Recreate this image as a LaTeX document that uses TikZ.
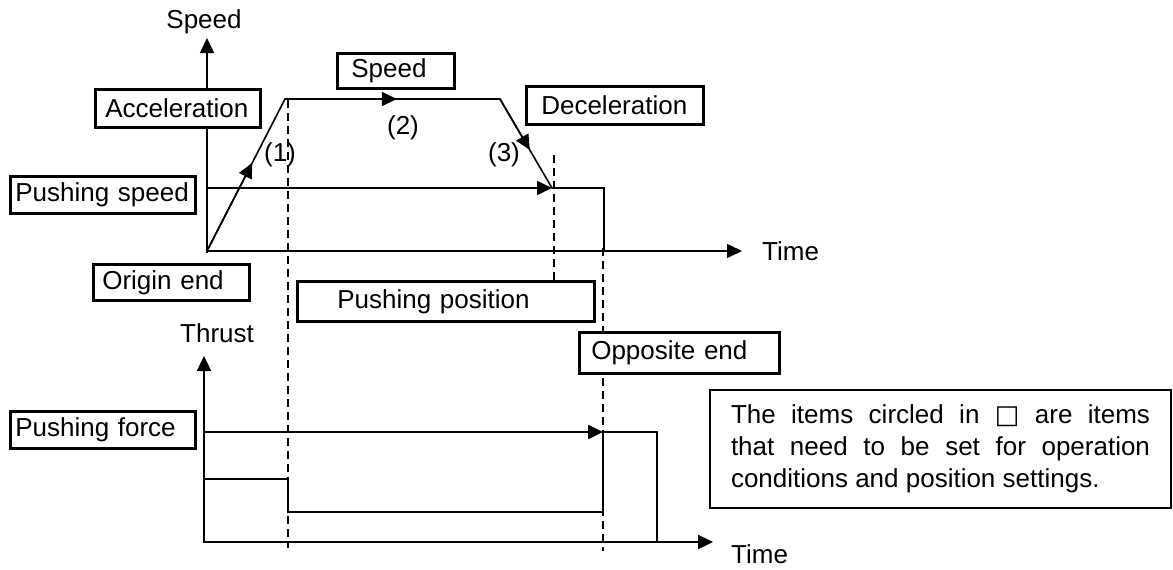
\documentclass[tikz,border=0pt]{standalone}
\usepackage{fontspec}
\setmainfont{Liberation Sans}
\newfontfamily\symfont{DejaVu Sans}
\usetikzlibrary{arrows.meta,calc}
\begin{document}
\begin{tikzpicture}[x=1pt,y=-1pt,
  every node/.style={font=\fontsize{26pt}{32pt}\selectfont},
  thinln/.style={line width=1.6pt},
  thickln/.style={line width=2.4pt},
  arr/.style={-{Triangle[length=15pt,width=14pt]}},
  dashln/.style={line width=1.4pt, dash pattern=on 8pt off 5pt},
  lbox/.style={draw, line width=2.6pt, fill=white, anchor=north west, inner ysep=0pt, align=left},
  lbl/.style={inner sep=0pt}
]
\useasboundingbox (0,0) rectangle (1173,570);

% coordinates top graph
\coordinate (O1) at (207,251);
\coordinate (SA0) at (207,253);
\coordinate (SAt) at (207,38);
\coordinate (TAt) at (742,251);
\coordinate (A) at (285,99);
\coordinate (B) at (500,99);
\coordinate (C) at (552,188);
\coordinate (D) at (604,188);
\coordinate (E) at (604,251);
\coordinate (PS0) at (207,188);
\coordinate (P1) at ($(O1)!0.58!(A)$);
\coordinate (P2) at ($(A)!0.52!(B)$);
\coordinate (P3) at ($(B)!0.573!(C)$);

% coordinates bottom graph
\coordinate (O2) at (204,542);
\coordinate (TH0) at (204,543);
\coordinate (THt) at (204,356);
\coordinate (TBt) at (713,542);
\coordinate (F0) at (204,432);
\coordinate (F1) at (603,432);
\coordinate (F2) at (657,432);
\coordinate (F3) at (657,542);
\coordinate (L0) at (204,479);
\coordinate (L1) at (288,479);
\coordinate (L2) at (288,512);
\coordinate (L3) at (603,512);

% dashed guide lines
\coordinate (DA0) at (288,100); \coordinate (DA1) at (288,548);
\coordinate (DB0) at (554,155); \coordinate (DB1) at (554,280);
\coordinate (DC0) at (603,248); \coordinate (DC1) at (603,551);
\draw[dashln] (DA0) -- (DA1);
\draw[dashln] (DB0) -- (DB1);
\draw[dashln] (DC0) -- (DC1);

% top axes
\draw[thinln, arr] (SA0) -- (SAt);
\draw[thinln, arr] (O1) -- (TAt);
\node[lbl] (speedlbl) at (204,22) {Speed};
\node[lbl, anchor=west] (timelbl) at (762,251) {Time};

% speed profile
\draw[thinln, line join=miter] (O1) -- (A) -- (B) -- (C) -- (D) -- (E);
\draw[thinln, arr] (O1) -- (P1);
\draw[thinln, arr] (A) -- (P2);
\draw[thinln, arr] (B) -- (P3);
\draw[thinln, arr] (PS0) -- (C);

\node[lbl] (n1) at (280,155) {(1)};
\node[lbl] (n2) at (403,128) {(2)};
\node[lbl] (n3) at (504,155) {(3)};

% bottom axes
\draw[thickln, arr] (TH0) -- (THt);
\draw[thickln, arr] (O2) -- (TBt);
\node[lbl] (thrustlbl) at (217,333) {Thrust};
\node[lbl, anchor=west] (timelbl2) at (731,554) {Time};

% thrust profile
\draw[thickln, arr] (F0) -- (F1);
\draw[thickln] (F1) -- (F2) -- (F3);
\draw[thickln] (L0) -- (L1) -- (L2) -- (L3) -- (F1);

% boxes
\node[lbox, inner xsep=10pt, text width=145pt, minimum height=38pt] (acc) at (94,88) {Acceleration};
\node[lbox, inner xsep=14pt, text width=89pt, minimum height=35pt] (spd) at (336,52) {Speed};
\node[lbox, inner xsep=15pt, text width=147pt, minimum height=38pt] (dec) at (525,85) {Deceleration};
\node[lbox, inner xsep=5pt, text width=175pt, minimum height=37pt] (pspd) at (9,175) {Pushing speed};
\node[lbox, inner xsep=9pt, text width=138pt, minimum height=36pt] (orig) at (92,263) {Origin end};
\node[lbox, inner xsep=40pt, text width=217pt, minimum height=40pt] (ppos) at (296,280) {Pushing position};
\node[lbox, inner xsep=12pt, text width=176pt, minimum height=41pt] (opp) at (578,331) {Opposite end};
\node[lbox, inner xsep=5pt, text width=175pt, minimum height=37pt] (pforce) at (9,410) {Pushing force};
\node[lbox, line width=2pt, inner xsep=21pt, text width=419pt, minimum height=118pt, align=justify] (note) at (709,389)
  {\hyphenpenalty=10000 The items circled in {\symfont □} are items\linebreak that need to be set for operation\linebreak conditions and position settings.};
\end{tikzpicture}
\end{document}
